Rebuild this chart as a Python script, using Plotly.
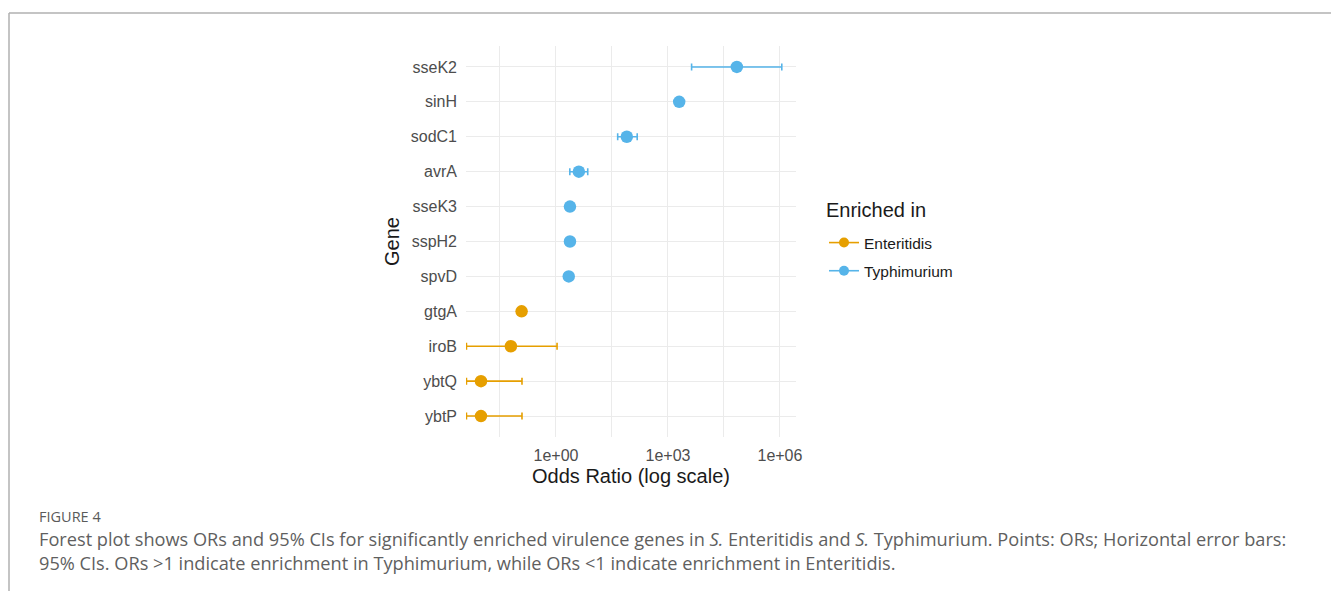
import plotly.graph_objects as go

# ---------------- data ----------------
genes = ["ybtP", "ybtQ", "iroB", "gtgA", "spvD", "sspH2", "sseK3", "avrA", "sodC1", "sinH", "sseK2"]
groups = ["Enteritidis", "Enteritidis", "Enteritidis", "Enteritidis", "Typhimurium", "Typhimurium",
          "Typhimurium", "Typhimurium", "Typhimurium", "Typhimurium", "Typhimurium"]
odds_ratio = [0.0098, 0.0098, 0.062, 0.12, 2.2, 2.37, 2.37, 4.1, 79.0, 2000.0, 70000.0]
ci_low = [0.0040, 0.0040, 0.0040, None, None, None, None, 2.35, 45.0, None, 4300.0]
ci_high = [0.123, 0.123, 1.07, None, None, None, None, 7.1, 150.0, None, 1120000.0]
colors = {"Enteritidis": "#E69F00", "Typhimurium": "#56B4E9"}
tick_vals = [1, 1e3, 1e6]
tick_text = ["1e+00", "1e+03", "1e+06"]
minor_vals = [10 ** -1.5, 10 ** 1.5, 10 ** 4.5]

W, H = 1331, 591
L, R, T, B = 466, 796, 46, 437


def px(x):
    return (x - L) / (R - L)


def py(y):
    return (B - y) / (B - T)


fig = go.Figure()

for grp in ["Enteritidis", "Typhimurium"]:
    idx = [i for i, g in enumerate(groups) if g == grp]
    xs = [odds_ratio[i] for i in idx]
    ys = [genes[i] for i in idx]
    eidx = [i for i in idx if ci_low[i] is not None]
    fig.add_trace(go.Scatter(
        x=[odds_ratio[i] for i in eidx], y=[genes[i] for i in eidx], mode="markers",
        marker=dict(size=0.1, color=colors[grp], opacity=0),
        error_x=dict(type="data", symmetric=False,
                     array=[ci_high[i] - odds_ratio[i] for i in eidx],
                     arrayminus=[odds_ratio[i] - ci_low[i] for i in eidx],
                     color=colors[grp], thickness=1.6, width=3.5),
        showlegend=False, hoverinfo="skip"))
    fig.add_trace(go.Scatter(
        x=xs, y=ys, mode="markers",
        marker=dict(size=12.5, color=colors[grp]),
        showlegend=False, name=grp))
    # legend entry
    fig.add_trace(go.Scatter(
        x=[None], y=[None], mode="lines+markers", name=grp, legendgroup=grp,
        marker=dict(size=10, color=colors[grp]),
        line=dict(color=colors[grp], width=1.6)))

fig.update_layout(
    width=W, height=H,
    margin=dict(l=L, r=W - R, t=T, b=H - B, autoexpand=False),
    paper_bgcolor="white", plot_bgcolor="white",
    font=dict(family="Liberation Sans, Arial, sans-serif", color="#4d4d4d", size=16),
    showlegend=True,
    legend=dict(
        font=dict(size=15.5, color="#1a1a1a"),
        x=px(824), y=py(226), xanchor="left", yanchor="top",
        bgcolor="rgba(0,0,0,0)", itemwidth=30, traceorder="grouped", tracegroupgap=5,
    ),
    xaxis=dict(
        type="log", range=[-2.41, 6.43],
        tickvals=tick_vals, ticktext=tick_text,
        tickfont=dict(size=16, color="#4d4d4d"),
        showgrid=True, gridcolor="#ebebeb", gridwidth=1.2,
        minor=dict(tickvals=minor_vals, showgrid=True, gridcolor="#ebebeb", gridwidth=1),
        zeroline=False, showline=False, ticks="", ticklabelstandoff=7,
        title=dict(text="Odds Ratio (log scale)", font=dict(size=20, color="#1a1a1a"), standoff=5),
    ),
    yaxis=dict(
        type="category", categoryorder="array", categoryarray=genes,
        range=[-0.6, len(genes) - 0.4],
        tickfont=dict(size=16, color="#4d4d4d"),
        showgrid=True, gridcolor="#ebebeb", gridwidth=1.2,
        zeroline=False, showline=False, ticks="", ticklabelstandoff=8,
        title=dict(text="Gene", font=dict(size=20, color="#1a1a1a"), standoff=5),
    ),
)

# legend title
fig.add_annotation(text="Enriched in", xref="paper", yref="paper", x=px(824), y=py(210),
                   xanchor="left", yanchor="middle", showarrow=False,
                   font=dict(family="Liberation Sans, Arial, sans-serif", size=20, color="#1a1a1a"))

# frame lines of the figure panel
fig.add_shape(type="line", xref="paper", yref="paper", x0=px(9), x1=px(W + 5), y0=py(13), y1=py(13),
              line=dict(color="#b0b0b0", width=1.5))
fig.add_shape(type="line", xref="paper", yref="paper", x0=px(9), x1=px(9), y0=py(13), y1=py(H + 5),
              line=dict(color="#b0b0b0", width=1.5))

cap_font = "Open Sans, Lato, sans-serif"
fig.add_annotation(text="FIGURE 4", xref="paper", yref="paper", x=px(37), y=py(516),
                   xanchor="left", yanchor="middle", showarrow=False,
                   font=dict(family=cap_font, size=14.5, color="#5a5a5a"))
fig.add_annotation(
    text="Forest plot shows ORs and 95% CIs for significantly enriched virulence genes in <i>S.</i> Enteritidis and <i>S.</i> Typhimurium. Points: ORs; Horizontal error bars:",
    xref="paper", yref="paper", x=px(37), y=py(539), xanchor="left", yanchor="middle", showarrow=False,
    font=dict(family=cap_font, size=18.2, color="#5f5f5f"))
fig.add_annotation(
    text="95% CIs. ORs >1 indicate enrichment in Typhimurium, while ORs <1 indicate enrichment in Enteritidis.",
    xref="paper", yref="paper", x=px(37), y=py(563), xanchor="left", yanchor="middle", showarrow=False,
    font=dict(family=cap_font, size=18.2, color="#5f5f5f"))

fig.write_html("out.html")
